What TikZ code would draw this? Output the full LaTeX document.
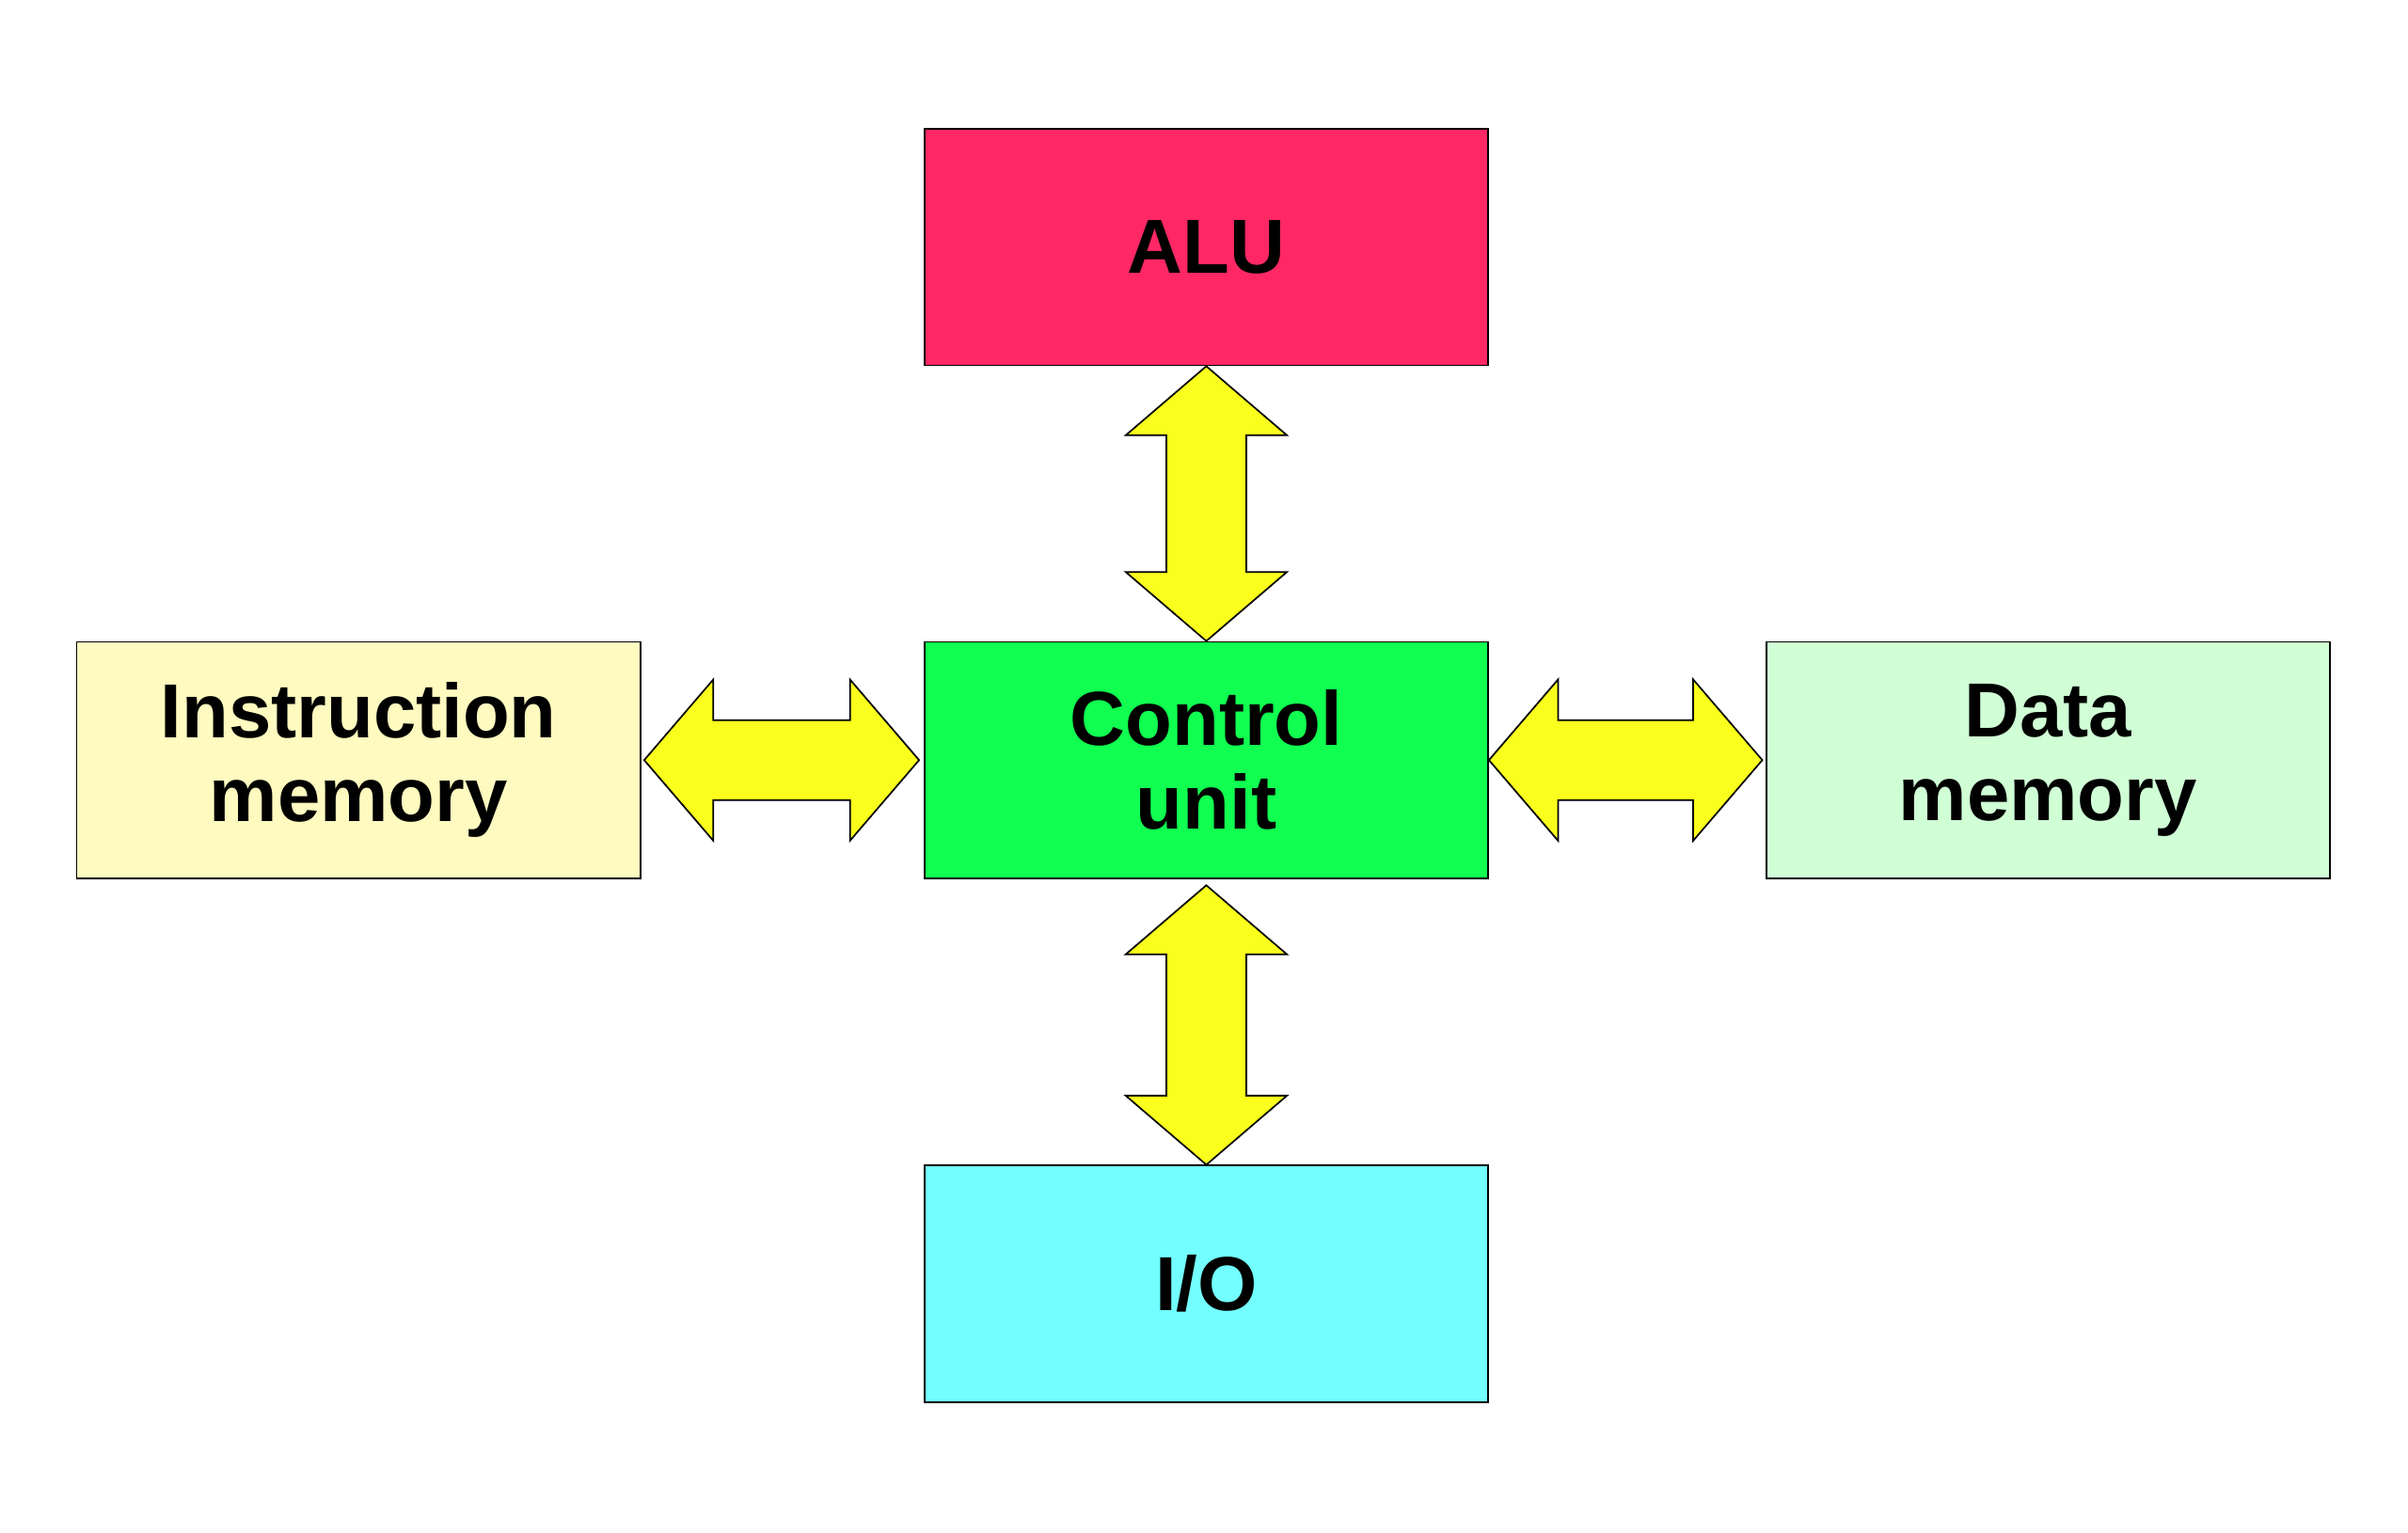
\documentclass[tikz,border=0pt]{standalone}
\usepackage{fontspec}
\setmainfont{Liberation Sans}
\usetikzlibrary{positioning,calc}

\definecolor{alured}{RGB}{255,40,100}
\definecolor{cugreen}{RGB}{16,255,80}
\definecolor{iocyan}{RGB}{115,255,255}
\definecolor{imyellow}{RGB}{255,250,192}
\definecolor{dmgreen}{RGB}{208,255,214}
\definecolor{busyellow}{RGB}{250,255,30}

\tikzset{
  unit/.style={draw=black, line width=0.6pt, minimum width=7.34cm, minimum height=3.08cm,
    align=center, inner sep=0pt, font=\fontsize{28.4}{31}\selectfont\bfseries},
  bus/.style={draw=black, line width=0.6pt, fill=busyellow, line join=miter}
}

% double arrow from #1 to #2
\newcommand{\busarrow}[2]{%
  \draw[bus] let \p1=($(#2)-(#1)$), \n1={atan2(\y1,\x1)}, \n2={veclen(\x1,\y1)} in
    [shift={(#1)}, rotate=\n1]
    (0,0) -- (0.9cm,1.05cm) -- (0.9cm,0.52cm) -- (\n2-0.9cm,0.52cm)
    -- (\n2-0.9cm,1.05cm) -- (\n2,0) -- (\n2-0.9cm,-1.05cm)
    -- (\n2-0.9cm,-0.52cm) -- (0.9cm,-0.52cm) -- (0.9cm,-1.05cm) -- cycle;
}

\begin{document}
\begin{tikzpicture}
\useasboundingbox (0,0) rectangle (31.36,-19.96);

\node[unit, fill=cugreen] (cu) at (15.71,-9.9) {Control\\unit};
\node[unit, fill=alured, above=3.58cm of cu] (alu) {ALU};
\node[unit, fill=iocyan, below=3.72cm of cu] (io) {I/O};
\node[unit, fill=imyellow, left=3.68cm of cu] (im) {Instruction\\memory};
\node[unit, fill=dmgreen, right=3.6cm of cu] (dm) {Data\\memory};

\busarrow{alu.south}{cu.north}
\busarrow{$(cu.south)+(0,-0.08)$}{io.north}
\busarrow{$(im.east)+(0.04,0)$}{$(cu.west)+(-0.06,0)$}
\busarrow{cu.east}{$(dm.west)+(-0.04,0)$}
\end{tikzpicture}
\end{document}
